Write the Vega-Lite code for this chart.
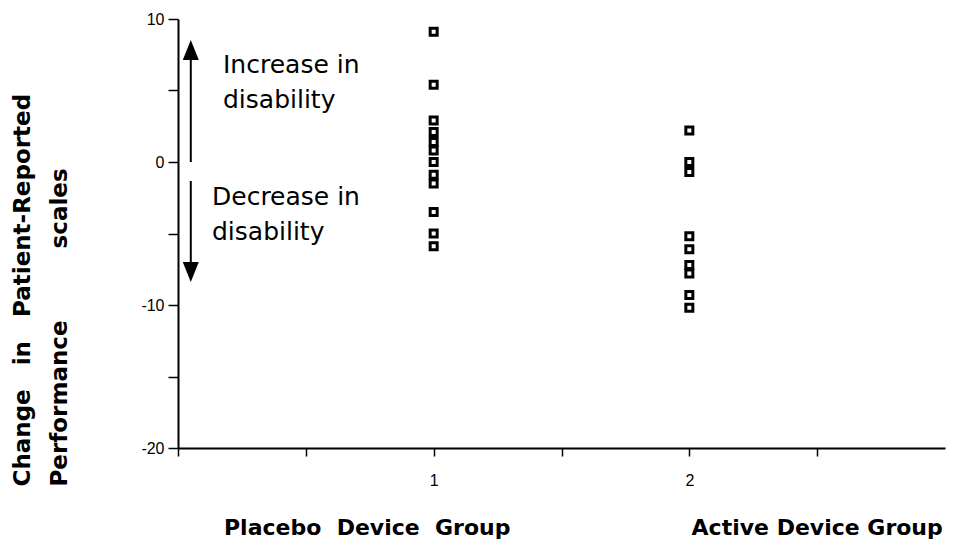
{
  "$schema": "https://vega.github.io/schema/vega-lite/v6.json",
  "width": 767,
  "height": 429,
  "autosize": {"type": "none"},
  "padding": {"left": 178, "top": 19, "right": 8, "bottom": 96},
  "background": "white",
  "config": {
    "view": {"stroke": null},
    "axis": {
      "grid": false,
      "domainColor": "black",
      "domainWidth": 2,
      "tickColor": "black",
      "tickWidth": 1.5,
      "labelColor": "black",
      "titleColor": "black"
    }
  },
  "datasets": {
    "scores": [
      {"group": 1, "change": 9.1},
      {"group": 1, "change": 5.4},
      {"group": 1, "change": 2.9},
      {"group": 1, "change": 2.1},
      {"group": 1, "change": 1.4},
      {"group": 1, "change": 0.8},
      {"group": 1, "change": 0},
      {"group": 1, "change": -0.9},
      {"group": 1, "change": -1.5},
      {"group": 1, "change": -3.5},
      {"group": 1, "change": -5.0},
      {"group": 1, "change": -5.9},
      {"group": 2, "change": 2.2},
      {"group": 2, "change": 0},
      {"group": 2, "change": -0.7},
      {"group": 2, "change": -5.2},
      {"group": 2, "change": -6.1},
      {"group": 2, "change": -7.2},
      {"group": 2, "change": -7.8},
      {"group": 2, "change": -9.3},
      {"group": 2, "change": -10.2}
    ],
    "arrows": [
      {"x": 0.05, "start": 0, "end": 7.83, "dir": "up"},
      {"x": 0.05, "start": -1.33, "end": -7.69, "dir": "down"}
    ],
    "notes": [
      {"x": 0.176, "y": 6.22, "text": "Increase\u00a0in"},
      {"x": 0.176, "y": 3.78, "text": "disability"},
      {"x": 0.133, "y": -3.0, "text": "Decrease\u00a0in"},
      {"x": 0.133, "y": -5.45, "text": "disability"}
    ],
    "groups": [
      {"x": 0.74, "y": -26.1, "text": "Placebo\u00a0\u00a0Device\u00a0\u00a0Group"},
      {"x": 2.5, "y": -26.1, "text": "Active Device Group"}
    ]
  },
  "layer": [
    {
      "data": {"name": "scores"},
      "mark": {"type": "point", "shape": "square", "filled": false, "fill": "white", "stroke": "black", "strokeWidth": 3, "size": 49, "opacity": 1},
      "encoding": {
        "x": {
          "field": "group",
          "type": "quantitative",
          "scale": {"domain": [0, 3], "nice": false, "zero": false},
          "axis": {
            "title": null,
            "values": [0, 0.5, 1, 1.5, 2, 2.5],
            "labelExpr": "datum.value == 1 ? '1' : datum.value == 2 ? '2' : ''",
            "labelFont": "Liberation Sans",
            "labelFontSize": 16,
            "tickSize": 8,
            "labelPadding": 16
          }
        },
        "y": {
          "field": "change",
          "type": "quantitative",
          "scale": {"domain": [-20, 10], "nice": false, "zero": false},
          "axis": {
            "values": [-20, -15, -10, -5, 0, 5, 10],
            "labelExpr": "datum.value % 10 == 0 ? '' + datum.value : ''",
            "labelFont": "Liberation Sans",
            "labelFontSize": 16,
            "tickSize": 10,
            "labelPadding": 4,
            "title": ["Change\u00a0\u00a0\u00a0in\u00a0\u00a0\u00a0Patient-Reported", "Performance\u00a0\u00a0\u00a0\u00a0\u00a0\u00a0\u00a0\u00a0\u00a0scales"],
            "titleFont": "DejaVu Sans",
            "titleFontWeight": "bold",
            "titleFontSize": 23,
            "titleAngle": -90,
            "titleAlign": "left",
            "titleBaseline": "alphabetic",
            "titleX": -149,
            "titleY": 467,
            "titleLineHeight": 37
          }
        }
      }
    },
    {
      "mark": {"type": "rule", "color": "black", "strokeWidth": 2.5},
      "encoding": {"y": {"datum": 0, "type": "quantitative"}}
    },
    {
      "data": {"name": "arrows"},
      "mark": {"type": "rule", "color": "black", "strokeWidth": 2},
      "encoding": {
        "x": {"field": "x", "type": "quantitative"},
        "y": {"field": "start", "type": "quantitative"},
        "y2": {"field": "end"}
      }
    },
    {
      "data": {"name": "arrows"},
      "mark": {"type": "point", "filled": true, "color": "black", "size": 400, "opacity": 1},
      "encoding": {
        "x": {"field": "x", "type": "quantitative"},
        "y": {"field": "end", "type": "quantitative"},
        "shape": {
          "field": "dir",
          "type": "nominal",
          "scale": {"domain": ["up", "down"], "range": ["M0,-1L0.8,1L-0.8,1Z", "M0,1L0.8,-1L-0.8,-1Z"]},
          "legend": null
        }
      }
    },
    {
      "data": {"name": "notes"},
      "mark": {"type": "text", "align": "left", "baseline": "alphabetic", "font": "DejaVu Sans", "fontSize": 25, "color": "black"},
      "encoding": {
        "x": {"field": "x", "type": "quantitative"},
        "y": {"field": "y", "type": "quantitative"},
        "text": {"field": "text"}
      }
    },
    {
      "data": {"name": "groups"},
      "mark": {"type": "text", "align": "center", "baseline": "alphabetic", "font": "DejaVu Sans", "fontWeight": "bold", "fontSize": 22, "color": "black"},
      "encoding": {
        "x": {"field": "x", "type": "quantitative"},
        "y": {"field": "y", "type": "quantitative"},
        "text": {"field": "text"}
      }
    }
  ]
}
